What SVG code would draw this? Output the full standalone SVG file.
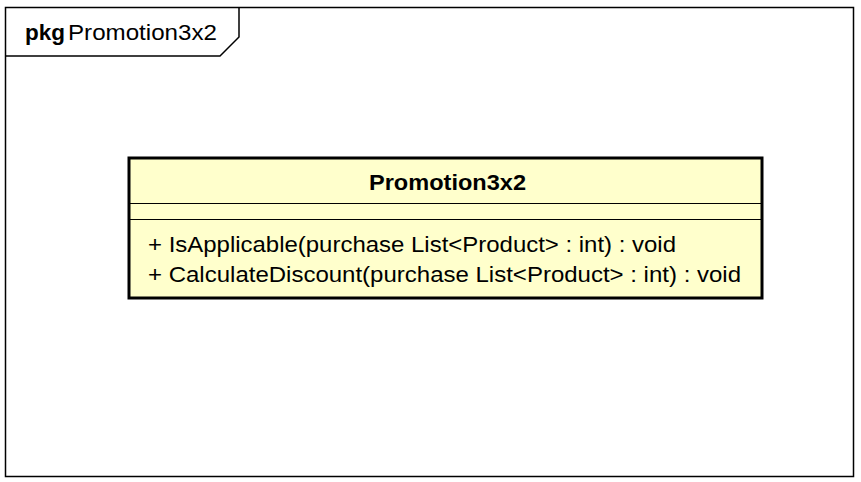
<svg xmlns="http://www.w3.org/2000/svg" width="861" height="482" viewBox="0 0 861 482">
<style>
.frame{fill:none;stroke:#000;stroke-width:1.5}
.cls{fill:#FFFFCC;stroke:#000;stroke-width:3}
.sep{stroke:#000;stroke-width:1.2}
text{font-family:"Liberation Sans",Arial,sans-serif;font-size:22px;fill:#000}
.b{font-weight:bold}
</style>
<rect width="861" height="482" fill="#fff"/>
<g id="package">
<rect class="frame" x="5.5" y="7.5" width="848" height="469"/>
<path class="frame" d="M5.5 56 H220 L239 37 V7.5"/>
<text class="b" x="25" y="40" textLength="40" lengthAdjust="spacingAndGlyphs">pkg</text>
<text x="68" y="40" textLength="149" lengthAdjust="spacingAndGlyphs">Promotion3x2</text>
</g>
<g id="Promotion3x2">
<rect class="cls" x="129" y="158" width="633" height="140"/>
<line class="sep" x1="129" y1="203.5" x2="762" y2="203.5"/>
<line class="sep" x1="129" y1="219.5" x2="762" y2="219.5"/>
<text class="b" x="369" y="190" textLength="157" lengthAdjust="spacingAndGlyphs">Promotion3x2</text>
<text x="148" y="252" textLength="528" lengthAdjust="spacingAndGlyphs">+ IsApplicable(purchase List&lt;Product&gt; : int) : void</text>
<text x="148" y="282" textLength="593" lengthAdjust="spacingAndGlyphs">+ CalculateDiscount(purchase List&lt;Product&gt; : int) : void</text>
</g>
<g id="connectors"/>
</svg>
